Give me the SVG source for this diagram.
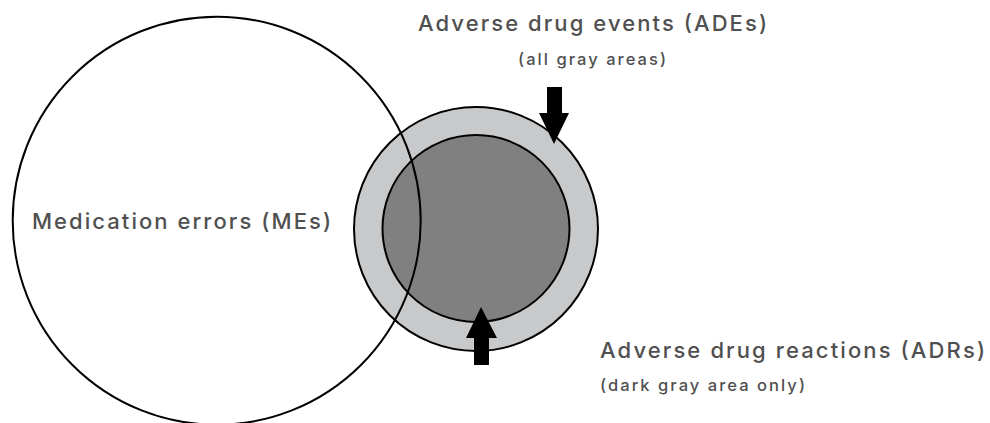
<svg xmlns="http://www.w3.org/2000/svg" width="990" height="423" viewBox="0 0 990 423">
<style>
.c{stroke:#000;stroke-width:2}
.t{font-family:"Inter","Open Sans","Liberation Sans",sans-serif;fill:#505050;font-weight:500}
.big{font-size:22px}
.sm{font-size:16.5px}
.ar{fill:#000}
</style>
<rect width="990" height="423" fill="#fff"/>
<g id="ade">
<circle class="c" cx="476" cy="229" r="122" fill="#c8c9cb"/>
</g>
<g id="adr">
<circle class="c" cx="476" cy="228.5" r="93.5" fill="#808080"/>
</g>
<g id="me">
<circle class="c" cx="216.7" cy="220.7" r="204" fill="none"/>
<text class="t big" x="32" y="229" textLength="299" lengthAdjust="spacing">Medication errors (MEs)</text>
</g>
<g id="labels">
<text class="t big" x="418" y="31" textLength="349" lengthAdjust="spacing">Adverse drug events (ADEs)</text>
<text class="t sm" x="518" y="65" textLength="148" lengthAdjust="spacing">(all gray areas)</text>
<text class="t big" x="600" y="358" textLength="385" lengthAdjust="spacing">Adverse drug reactions (ADRs)</text>
<text class="t sm" x="600" y="391" textLength="205" lengthAdjust="spacing">(dark gray area only)</text>
</g>
<g id="connectors">
<polygon class="ar" points="547,87 562,87 562,113 569,113 554,144 539,113 547,113"/>
<polygon class="ar" points="474,365 489,365 489,338 497,338 481,307 466,338 474,338"/>
</g>
</svg>
